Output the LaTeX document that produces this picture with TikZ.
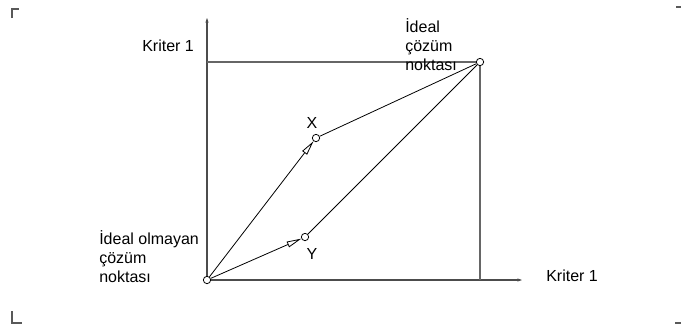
\documentclass[tikz,border=0pt]{standalone}
\usepackage{fontspec}
\setmainfont{Liberation Sans}
\usetikzlibrary{arrows.meta, positioning}
\tikzstyle{point} = [circle, draw, inner sep=0pt, minimum size=5.5pt, line width=0.6pt]
\tikzstyle{axisline} = [draw=black!70, line width=0.8pt, -{Stealth[length=3.5pt,width=2.4pt]}]
\tikzstyle{frame} = [draw=black!60, line width=0.8pt]
\tikzstyle{link} = [line width=0.6pt]
\tikzstyle{arrow} = [link, -{Triangle[open,length=11pt,width=4.5pt]}]
\tikzstyle{txt} = [inner sep=0pt, font=\fontsize{12}{13.9}\selectfont, align=left]
\tikzstyle{crop} = [draw=black!65, line width=0.8pt]

\begin{document}
\begin{tikzpicture}[x=0.75pt, y=-0.75pt]
  \useasboundingbox (0,0) rectangle (681,326);
  % points
  \node [point] (O) at (207,280) {};
  \node [point] (I) at (480,62) {};
  \node [point] (X) at (316,138) {};
  \node [point] (Y) at (305,237) {};
  \coordinate (ytop) at (207,18);
  \coordinate (xend) at (522,280);
  \coordinate (hl) at (207,62);
  \coordinate (vb) at (480,280);

  % axes and frame
  \draw [axisline] (O) -- (ytop);
  \draw [axisline] (O) -- (xend);
  \draw [frame] (hl) -- (I);
  \draw [frame] (I) -- (vb);

  % paths
  \draw [arrow] (O) -- (X);
  \draw [link] (X) -- (I);
  \draw [arrow] (O) -- (Y);
  \draw [link] (Y) -- (I);

  % labels (multi-line ones sit on the baseline of their last line)
  \node [txt, anchor=base west] (ylab) at (142,51) {Kriter 1};
  \node [txt, anchor=base west] (xlab) at (546,281) {Kriter 1};
  \node [txt] (xname) at (312,123) {X};
  \node [txt] (yname) at (312,254) {Y};
  \node [txt, anchor=base west] (ideal) at (405,70) {İdeal\\çözüm\\noktası};
  \node [txt, anchor=base west] (nonideal) at (99,282) {İdeal olmayan\\çözüm\\noktası};

  % crop marks
  \draw [crop] (12,18) -- (12,9) -- (19,9);
  \draw [crop] (12,311) -- (12,323) -- (22,323);
  \draw [crop] (676,7) -- (681,7);
  \draw [crop] (675,323) -- (681,323);
\end{tikzpicture}
\end{document}
